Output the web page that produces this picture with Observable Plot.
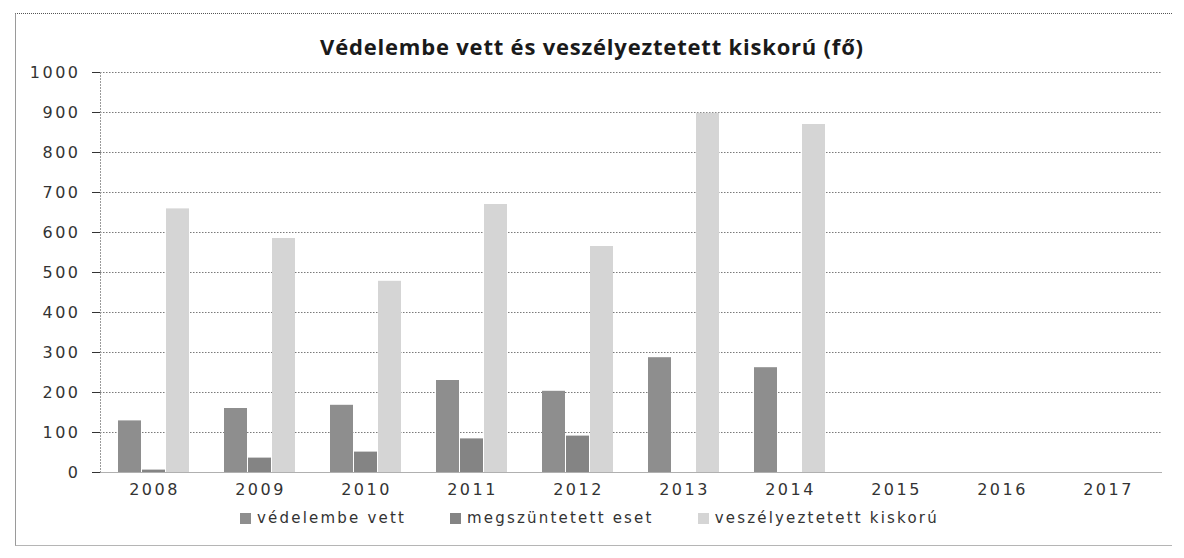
<!DOCTYPE html>
<html>
<head>
<meta charset="utf-8">
<script src="https://cdn.jsdelivr.net/npm/d3@7"></script>
<script src="https://cdn.jsdelivr.net/npm/@observablehq/plot@0.6"></script>
<style>
  body { margin:0; background:#fff; width:1184px; height:558px; position:relative; overflow:hidden; font-family:"DejaVu Sans",sans-serif; }
  #frame { position:absolute; left:15px; top:13px; width:1156px; height:531px; border-left:1.5px solid #9a9a9a; border-top:1.5px dotted #555; border-bottom:1.5px solid #b5b5b5; }
  #title { position:absolute; top:31px; left:0; width:1184px; text-align:center; font:bold 22px "Open Sans",sans-serif; letter-spacing:0.8px; color:#1a1a1a; }
  #chart { position:absolute; left:0; top:57px; width:1184px; height:455px; }
  #chart svg { position:absolute; left:0; top:0; }
  #chart svg text { letter-spacing:2.5px; }
  #legend { position:absolute; top:509px; left:240px; display:flex; gap:44px; font:15px "DejaVu Sans",sans-serif; color:#333; letter-spacing:2.2px; }
  #legend .item { display:flex; align-items:center; }
  #legend .sw { width:11px; height:11px; margin-right:6px; display:inline-block; }
</style>
</head>
<body>
<div id="frame"></div>
<div id="title">Védelembe vett és veszélyeztetett kiskorú (fő)</div>
<div id="chart"></div>
<div id="legend"></div>
<script>
const years = ["2008","2009","2010","2011","2012","2013","2014","2015","2016","2017"];
const series = ["védelembe vett","megszüntetett eset","veszélyeztetett kiskorú"];
const vedelembeVett = [129,160,168,230,203,287,262,null,null,null];
const megszuntetettEset = [6,36,51,84,91,null,null,null,null,null];
const veszelyeztetettKiskoru = [659,585,478,670,565,898,870,null,null,null];
const yTicks = [0,100,200,300,400,500,600,700,800,900,1000];
const colors = ["#8e8e8e","#848484","#d5d5d5"];

const valuesBySeries = [vedelembeVett, megszuntetettEset, veszelyeztetettKiskoru];
const rows = [];
years.forEach((yr, i) => {
  series.forEach((s, j) => {
    const v = valuesBySeries[j][i];
    if (v != null) rows.push({year: yr, series: s, value: v});
  });
});

const common = {
  width: 1184,
  height: 455,
  marginLeft: 100,
  marginRight: 22,
  marginTop: 15,
  marginBottom: 40,
  style: {fontFamily: "DejaVu Sans, sans-serif", fontSize: "16px", color: "#333", background: "transparent"}
};

// Layer 1: grid, axes
const base = Plot.plot({
  ...common,
  x: {domain: years, paddingInner: 0.3, paddingOuter: 0.15, label: null, tickSize: 0, tickPadding: 11},
  y: {domain: [0, 1000], ticks: yTicks, tickFormat: d => String(d), tickSize: 8, tickPadding: 12, label: null},
  marks: [
    Plot.ruleY(yTicks.slice(1), {stroke: "#7a7a7a", strokeDasharray: "1.5,1.5", strokeWidth: 1}),
    Plot.ruleY([0], {stroke: "#b0b0b0", strokeWidth: 1.2}),
    Plot.frame({anchor: "left", stroke: "#9a9a9a", strokeDasharray: "1,2"})
  ]
});

// Layer 2: grouped bars
const bars = Plot.plot({
  ...common,
  fx: {domain: years, paddingInner: 0.3, paddingOuter: 0.15, axis: null, label: null},
  x: {domain: series, axis: null, padding: 0.04},
  y: {domain: [0, 1000], axis: null},
  color: {domain: series, range: colors},
  marks: [
    Plot.barY(rows, {fx: "year", x: "series", y: "value", fill: "series"})
  ]
});

document.getElementById("chart").appendChild(base);
document.getElementById("chart").appendChild(bars);

const legend = document.getElementById("legend");
series.forEach((s, j) => {
  const it = document.createElement("div");
  it.className = "item";
  const sw = document.createElement("span");
  sw.className = "sw";
  sw.style.background = colors[j];
  it.appendChild(sw);
  it.appendChild(document.createTextNode(s));
  legend.appendChild(it);
});
</script>
</body>
</html>
